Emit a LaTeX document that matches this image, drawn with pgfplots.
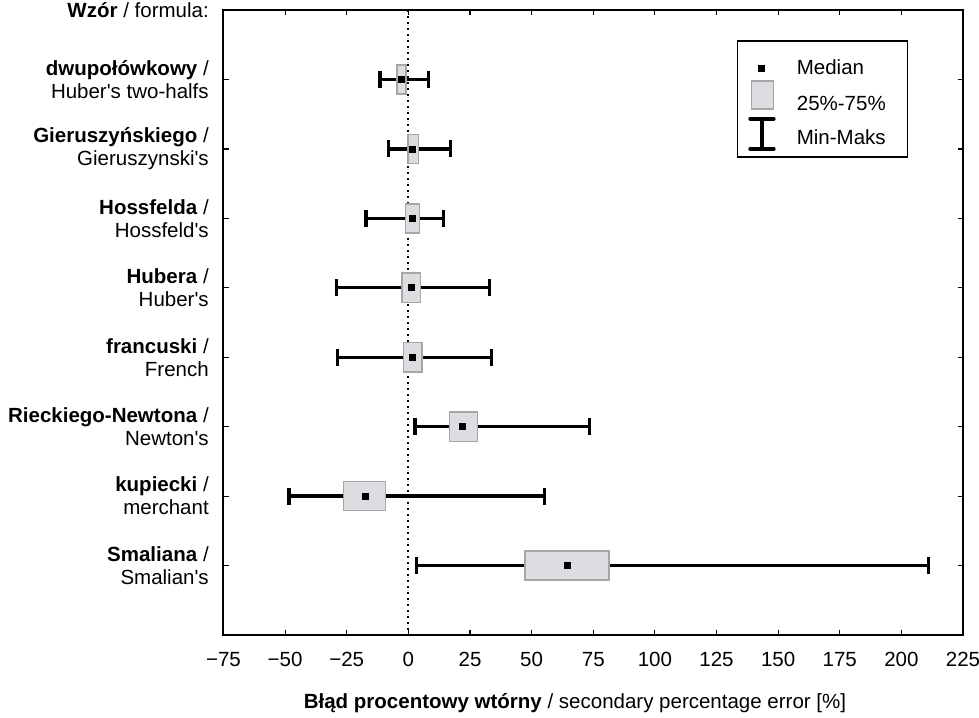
\documentclass[border=0pt]{standalone}
\usepackage{fontspec}
\setmainfont{Liberation Sans}
\usepackage{pgfplots}
\pgfplotsset{compat=1.18}
\usepgfplotslibrary{statistics}
\definecolor{boxfill}{HTML}{DCDDE0}
\definecolor{boxedge}{HTML}{A6A6A6}
\newcommand{\fs}{\fontsize{10.25}{11.5}\selectfont}
\begin{document}
\begin{tikzpicture}[font=\fs]
\begin{axis}[
  scale only axis, width=369.75pt, height=312.5pt,
  xmin=-75, xmax=225, ymin=0, ymax=9, y dir=reverse,
  xtick={-75,-50,...,225},
  xticklabels={−75,−50,−25,0,25,50,75,100,125,150,175,200,225},
  ytick={0,...,8},
  yticklabels={{\textbf{Wzór} / formula:},
    {\textbf{dwupołówkowy} /\\Huber\textquotesingle s two-halfs},
    {\textbf{Gieruszyńskiego} /\\Gieruszynski\textquotesingle s},
    {\textbf{Hossfelda} /\\Hossfeld\textquotesingle s},
    {\textbf{Hubera} /\\Huber\textquotesingle s},
    {\textbf{francuski} /\\French},
    {\textbf{Rieckiego-Newtona} /\\Newton\textquotesingle s},
    {\textbf{kupiecki} /\\merchant},
    {\textbf{Smaliana} /\\Smalian\textquotesingle s}},
  yticklabel style={align=right, font=\fs, xshift=-3.85pt},
  xticklabel style={font=\fs, yshift=-5pt},
  tick align=inside,
  major tick length=2.5pt,
  every tick/.style={black, line width=0.6pt},
  axis line style={line width=1pt},
  xlabel={\textbf{Błąd procentowy wtórny} / secondary percentage error [\%]},
  x label style={at={(axis description cs:0.4753,0)}, anchor=base, yshift=-36.5pt, font=\fs},
  boxplot/draw direction=x,
  boxplot/box extend=0.42,
  boxplot/whisker extend=0.245,
  boxplot/every box/.style={fill=boxfill, draw=boxedge, line width=0.75pt},
  boxplot/every whisker/.style={black, line width=1.7pt},
  boxplot/every median/.style={draw=none},
  legend style={at={(0.694,0.952)}, anchor=north west, draw=black, line width=0.75pt, fill=white,
    inner xsep=0pt, inner ysep=3pt, row sep=0pt,
    nodes={inner xsep=3.7pt, inner ysep=0pt, text width=51.6pt, font=\fs}},
  legend cell align=left,
]
% zero reference line
\addplot[forget plot, black, line width=1pt, dash pattern=on 1pt off 2pt] coordinates {(0,0) (0,9)};

% box plots: min, q1, median, q3, max
\addplot[forget plot, boxplot prepared={draw position=1, lower whisker=-11.5, lower quartile=-4.7, median=-3.0, upper quartile=-0.9, upper whisker=8.1}] coordinates {};
\addplot[forget plot, boxplot prepared={draw position=2, lower whisker=-8.1, lower quartile=-0.2, median=1.6, upper quartile=4.2, upper whisker=17.0}] coordinates {};
\addplot[forget plot, boxplot prepared={draw position=3, lower whisker=-17.2, lower quartile=-1.1, median=1.6, upper quartile=4.5, upper whisker=14.2}] coordinates {};
\addplot[forget plot, boxplot prepared={draw position=4, lower whisker=-29.1, lower quartile=-2.6, median=1.2, upper quartile=5.0, upper whisker=32.9}] coordinates {};
\addplot[forget plot, boxplot prepared={draw position=5, lower whisker=-28.7, lower quartile=-2.0, median=1.8, upper quartile=5.6, upper whisker=33.6}] coordinates {};
\addplot[forget plot, boxplot prepared={draw position=6, lower whisker=2.7, lower quartile=16.7, median=21.8, upper quartile=28.0, upper whisker=73.5}] coordinates {};
\addplot[forget plot, boxplot prepared={draw position=7, lower whisker=-48.5, lower quartile=-26.4, median=-17.6, upper quartile=-9.2, upper whisker=55.3}] coordinates {};
\addplot[forget plot, boxplot prepared={draw position=8, lower whisker=3.4, lower quartile=47.4, median=64.7, upper quartile=81.4, upper whisker=211.0}] coordinates {};

% medians
\addplot[forget plot, only marks, mark=square*, mark size=1.5pt, black] coordinates {
  (-3.0,1) (1.6,2) (1.6,3) (1.2,4) (1.8,5) (21.8,6) (-17.6,7) (64.7,8)};

\addlegendimage{legend image code/.code={%
  \path[draw=none, fill=none] (0pt,-9pt) rectangle (26pt,10.75pt);
  \fill[black,overlay] (10.5pt,-1.5pt) rectangle (13.5pt,1.5pt);}}
\addlegendentry{Median}
\addlegendimage{legend image code/.code={%
  \path[draw=none, fill=none] (0pt,-8.5pt) rectangle (26pt,9.05pt);
  \draw[overlay, fill=boxfill, draw=boxedge, line width=0.75pt] (7pt,-2.2pt) rectangle (18pt,11.8pt);}}
\addlegendentry{25\%-75\%}
\addlegendimage{legend image code/.code={%
  \path[draw=none, fill=none] (0pt,-6.4pt) rectangle (26pt,8.5pt);
  \draw[overlay, black, line width=1.7pt] (12.25pt,-5.25pt) -- (12.25pt,9.75pt);
  \draw[overlay, black, line width=2.2pt, line cap=round] (6.5pt,-5.25pt) -- (18pt,-5.25pt) (6.5pt,9.75pt) -- (18pt,9.75pt);}}
\addlegendentry{Min-Maks}
\end{axis}
\pgfresetboundingbox
\path[use as bounding box] (current axis.south west) ++(-111.75pt,-41pt) rectangle ++(489.5pt,358.5pt);
\end{tikzpicture}
\end{document}
